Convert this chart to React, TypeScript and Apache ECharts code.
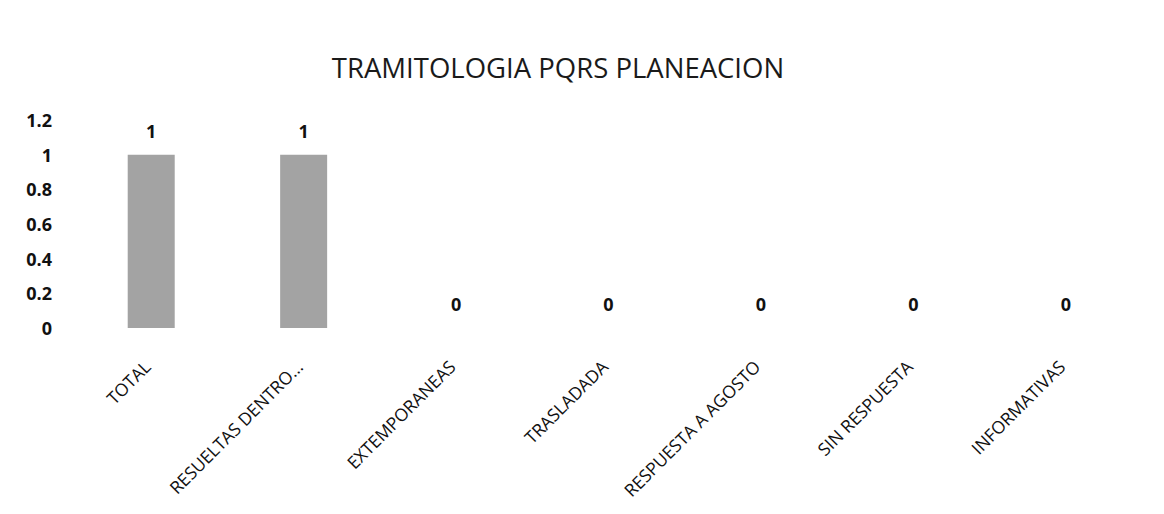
import React, { useEffect, useRef } from "react";
import * as echarts from "echarts";

const categories = [
  "TOTAL",
  "RESUELTAS DENTRO...",
  "EXTEMPORANEAS",
  "TRASLADADA",
  "RESPUESTA A AGOSTO",
  "SIN RESPUESTA",
  "INFORMATIVAS",
];
const values = [1, 1, 0, 0, 0, 0, 0];
const yTicks = { min: 0, max: 1.2, interval: 0.2 };
const titleText = "TRAMITOLOGIA PQRS PLANEACION";

const FONT = "'Open Sans', 'Noto Sans', sans-serif";

export default function App() {
  const ref = useRef<HTMLDivElement>(null);
  useEffect(() => {
    if (!ref.current) return;
    const chart = echarts.init(ref.current, undefined, { renderer: "svg" });
    chart.setOption({
      animation: false,
      backgroundColor: "#ffffff",
      title: {
        text: titleText,
        left: 553,
        textAlign: "center",
        top: 48,
        textStyle: { fontFamily: FONT, fontSize: 27.5, fontWeight: "normal", color: "#1a1a1a" },
      },
      grid: { left: 75, right: 22, top: 120, bottom: 186, containLabel: false },
      xAxis: {
        type: "category",
        data: categories,
        axisLine: { show: false },
        axisTick: { show: false },
        axisLabel: {
          rotate: 45,
          interval: 0,
          margin: 31,
          padding: [0, 6, 0, 0],
          fontFamily: FONT,
          fontSize: 17.5,
          color: "#111",
        },
      },
      yAxis: {
        type: "value",
        min: yTicks.min,
        max: yTicks.max,
        interval: yTicks.interval,
        splitLine: { show: false },
        axisLine: { show: false },
        axisTick: { show: false },
        axisLabel: {
          margin: 23,
          fontFamily: FONT,
          fontSize: 18,
          fontWeight: "bold",
          color: "#111",
          formatter: (v: number) => String(Math.round(v * 10) / 10),
        },
      },
      series: [
        {
          type: "bar",
          data: values,
          barWidth: 47,
          itemStyle: { color: "#a3a3a3" },
          label: {
            show: true,
            position: "top",
            distance: 15,
            fontFamily: FONT,
            fontSize: 18,
            fontWeight: "bold",
            color: "#111",
          },
        },
      ],
    });
    return () => chart.dispose();
  }, []);
  return (
    <div
      ref={ref}
      style={{ position: "fixed", left: 0, top: 0, width: 1164, height: 514 }}
    />
  );
}
